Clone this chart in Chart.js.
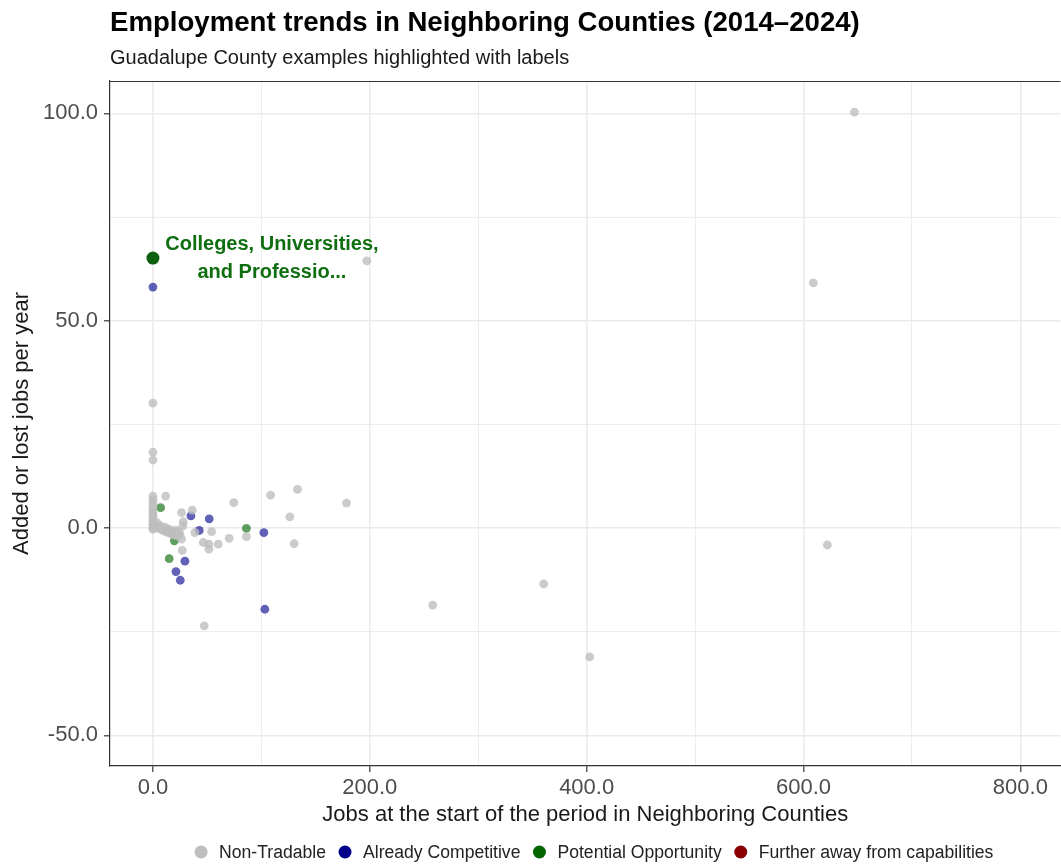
<!DOCTYPE html>
<html>
<head>
<meta charset="utf-8">
<script src="https://cdn.jsdelivr.net/npm/chart.js@4.4.1/dist/chart.umd.min.js"></script>
<style>
html, body { margin: 0; padding: 0; background: #fff; overflow: hidden; }
#wrap { width: 1061px; height: 864px; overflow: hidden; }
</style>
</head>
<body>
<div id="wrap"><canvas id="grafico" width="1067" height="864"></canvas></div>
<script>
// dados
const titulo = 'Employment trends in Neighboring Counties (2014\u20132024)';
const subtitulo = 'Guadalupe County examples highlighted with labels';
const tituloX = 'Jobs at the start of the period in Neighboring Counties';
const tituloY = 'Added or lost jobs per year';

const seriesNomes = ['Non-Tradable', 'Already Competitive', 'Potential Opportunity', 'Further away from capabilities'];
const seriesCores = ['#bebebe', '#00008b', '#006400', '#8b0000'];

const nonTradableX = [0, 0, 0, 0, 0, 0, 0, 0, 0, 0, 0, 0, 0, 0, 0, 0,
  1.5, 3, 4, 5, 6, 7, 8, 9, 10, 11, 12, 13, 14, 15, 16, 17, 18, 19, 20, 21, 22, 23, 24, 25,
  11.7, 26.4, 36.2, 28, 27.6, 38.7, 54.1, 74.6, 108.5, 133.3, 178.5, 126.3, 86.2, 130.2, 70.3,
  60.2, 51.6, 51.6, 46.4, 26.4, 27, 47.3, 647, 609, 622, 402.8, 360.4, 258, 197.2];
const nonTradableY = [30.1, 18.3, 16.4, 7.7, 6.8, 6.0, 5.0, 4.2, 3.5, 2.8, 2.2, 1.6, 1.0, 0.5, 0.0, -0.3,
  0.8, 0.4, 1.2, 0.1, -0.2, 0.5, -0.4, -0.1, -0.7, 0.2, -0.9, -0.5, -1.1, -0.3, -1.3, -0.8, -1.5, -1.0, -1.7, -0.5, -1.4, -1.9, -0.8, -1.6,
  7.7, 3.7, 4.3, 1.5, 0.5, -1.1, -0.9, 6.1, 7.9, 9.3, 6.0, 2.7, -2.1, -3.8, -2.5,
  -3.9, -3.9, -5.1, -3.5, -2.7, -5.4, -23.6, 100.3, 59.1, -4.1, -31.1, -13.5, -18.6, 64.4];

const competitiveX = [0, 35, 51.9, 42.7, 102.3, 29.5, 21.2, 25.2, 103.2];
const competitiveY = [58.1, 2.9, 2.2, -0.6, -1.1, -8.0, -10.5, -12.6, -19.6];

const opportunityX = [7.1, 86.2, 19.7, 15];
const opportunityY = [4.9, -0.1, -3.1, -7.4];

const furtherX = [];
const furtherY = [];

const destaqueX = [0];
const destaqueY = [65.1];
const destaqueTexto = ['Colleges, Universities,', 'and Professio...'];

const ticksX = [0, 100, 200, 300, 400, 500, 600, 700, 800];
const ticksY = [-50, -25, 0, 25, 50, 75, 100];

const FONTE = "'Liberation Sans', Arial, Helvetica, sans-serif";

function pontos(xs, ys) {
    return xs.map((x, i) => ({ x, y: ys[i] }));
}

function comAlfa(hex, a) {
    const n = parseInt(hex.slice(1), 16);
    return `rgba(${(n >> 16) & 255}, ${(n >> 8) & 255}, ${n & 255}, ${a})`;
}

const series = [
    pontos(nonTradableX, nonTradableY),
    pontos(competitiveX, competitiveY),
    pontos(opportunityX, opportunityY),
    pontos(furtherX, furtherY)
];

const datasets = series.map((dados, i) => ({
    label: seriesNomes[i],
    data: dados,
    backgroundColor: comAlfa(seriesCores[i], i === 0 ? 0.8 : 0.62),
    borderWidth: 0,
    pointRadius: 4.4,
    pointHoverRadius: 4.4
}));

datasets.push({
    label: 'destaque',
    data: pontos(destaqueX, destaqueY),
    backgroundColor: '#0d600d',
    borderWidth: 0,
    pointRadius: 6.5,
    pointHoverRadius: 6.5
});

// textos, borda superior, rótulo e legenda
const pluginExtras = {
    id: 'extras',
    afterDraw(chart) {
        const ctx = chart.ctx;
        const area = chart.chartArea;
        ctx.save();

        ctx.fillStyle = '#000';
        ctx.textAlign = 'left';
        ctx.textBaseline = 'alphabetic';
        ctx.font = `bold 27.6px ${FONTE}`;
        ctx.fillText(titulo, 110, 31);
        ctx.font = `20px ${FONTE}`;
        ctx.fillStyle = '#1a1a1a';
        ctx.fillText(subtitulo, 110, 64);

        // borda superior do painel
        ctx.strokeStyle = '#333';
        ctx.lineWidth = 1.2;
        ctx.beginPath();
        ctx.moveTo(area.left, area.top + 0.5);
        ctx.lineTo(area.right, area.top + 0.5);
        ctx.stroke();

        // rótulo do ponto destacado
        const px = chart.scales.x.getPixelForValue(destaqueX[0]);
        const py = chart.scales.y.getPixelForValue(destaqueY[0]);
        ctx.font = `bold 20px ${FONTE}`;
        ctx.fillStyle = '#0f6e0f';
        ctx.textAlign = 'center';
        ctx.textBaseline = 'middle';
        ctx.fillText(destaqueTexto[0], px + 119, py - 14);
        ctx.fillText(destaqueTexto[1], px + 119, py + 14);

        // legenda
        ctx.font = `17.6px ${FONTE}`;
        ctx.textAlign = 'left';
        const raio = 6.5, gapTexto = 18, gapItem = 19;
        const larguras = seriesNomes.map(n => ctx.measureText(n).width);
        let total = raio;
        larguras.forEach((w, i) => { total += gapTexto + w + (i < larguras.length - 1 ? gapItem : 0); });
        let x = 594 - total / 2 + raio;
        const y = 852;
        seriesNomes.forEach((nome, i) => {
            ctx.fillStyle = seriesCores[i];
            ctx.beginPath();
            ctx.arc(x, y, raio, 0, Math.PI * 2);
            ctx.fill();
            ctx.fillStyle = '#222';
            ctx.fillText(nome, x + gapTexto, y + 1);
            x += gapTexto + larguras[i] + gapItem;
        });

        ctx.restore();
    }
};

function gradeConfig(passoMaior) {
    return {
        color: '#ebebeb',
        lineWidth: c => (c.tick && c.tick.value % passoMaior === 0) ? 1.6 : 0.9,
        tickColor: c => (c.tick && c.tick.value % passoMaior === 0) ? '#333' : 'rgba(0,0,0,0)',
        tickWidth: 1.2,
        tickLength: 6,
        drawTicks: true
    };
}

new Chart(document.getElementById('grafico'), {
    type: 'scatter',
    data: { datasets },
    options: {
        responsive: false,
        animation: false,
        devicePixelRatio: 1,
        layout: { padding: { top: 81, left: 0, right: 0, bottom: 36 } },
        plugins: {
            legend: { display: false },
            title: { display: false },
            tooltip: { enabled: false }
        },
        scales: {
            x: {
                type: 'linear',
                min: -39.6,
                max: 837,
                afterBuildTicks: s => { s.ticks = ticksX.map(v => ({ value: v })); },
                afterFit: s => { s.height = 62; s.paddingRight = 0; s.paddingLeft = 0; },
                grid: gradeConfig(200),
                border: { display: true, color: '#333', width: 1.2 },
                ticks: {
                    font: { family: FONTE, size: 22 },
                    color: '#4d4d4d',
                    padding: 3,
                    maxRotation: 0,
                    autoSkip: false,
                    callback: v => v % 200 === 0 ? v.toFixed(1) : ''
                },
                title: {
                    display: true,
                    text: tituloX,
                    color: '#1a1a1a',
                    font: { family: FONTE, size: 22 },
                    padding: { top: 0, bottom: 0 }
                }
            },
            y: {
                type: 'linear',
                min: -57.4,
                max: 107.8,
                afterBuildTicks: s => { s.ticks = ticksY.map(v => ({ value: v })); },
                afterFit: s => { s.width = 110; s.paddingTop = 0; s.paddingBottom = 0; },
                grid: gradeConfig(50),
                border: { display: true, color: '#333', width: 1.2 },
                ticks: {
                    font: { family: FONTE, size: 22 },
                    color: '#4d4d4d',
                    padding: 6,
                    autoSkip: false,
                    callback: v => v % 50 === 0 ? v.toFixed(1) : ''
                },
                title: {
                    display: true,
                    text: tituloY,
                    color: '#1a1a1a',
                    font: { family: FONTE, size: 22 },
                    padding: { top: 9, bottom: 0 }
                }
            }
        }
    },
    plugins: [pluginExtras]
});
</script>
</body>
</html>
